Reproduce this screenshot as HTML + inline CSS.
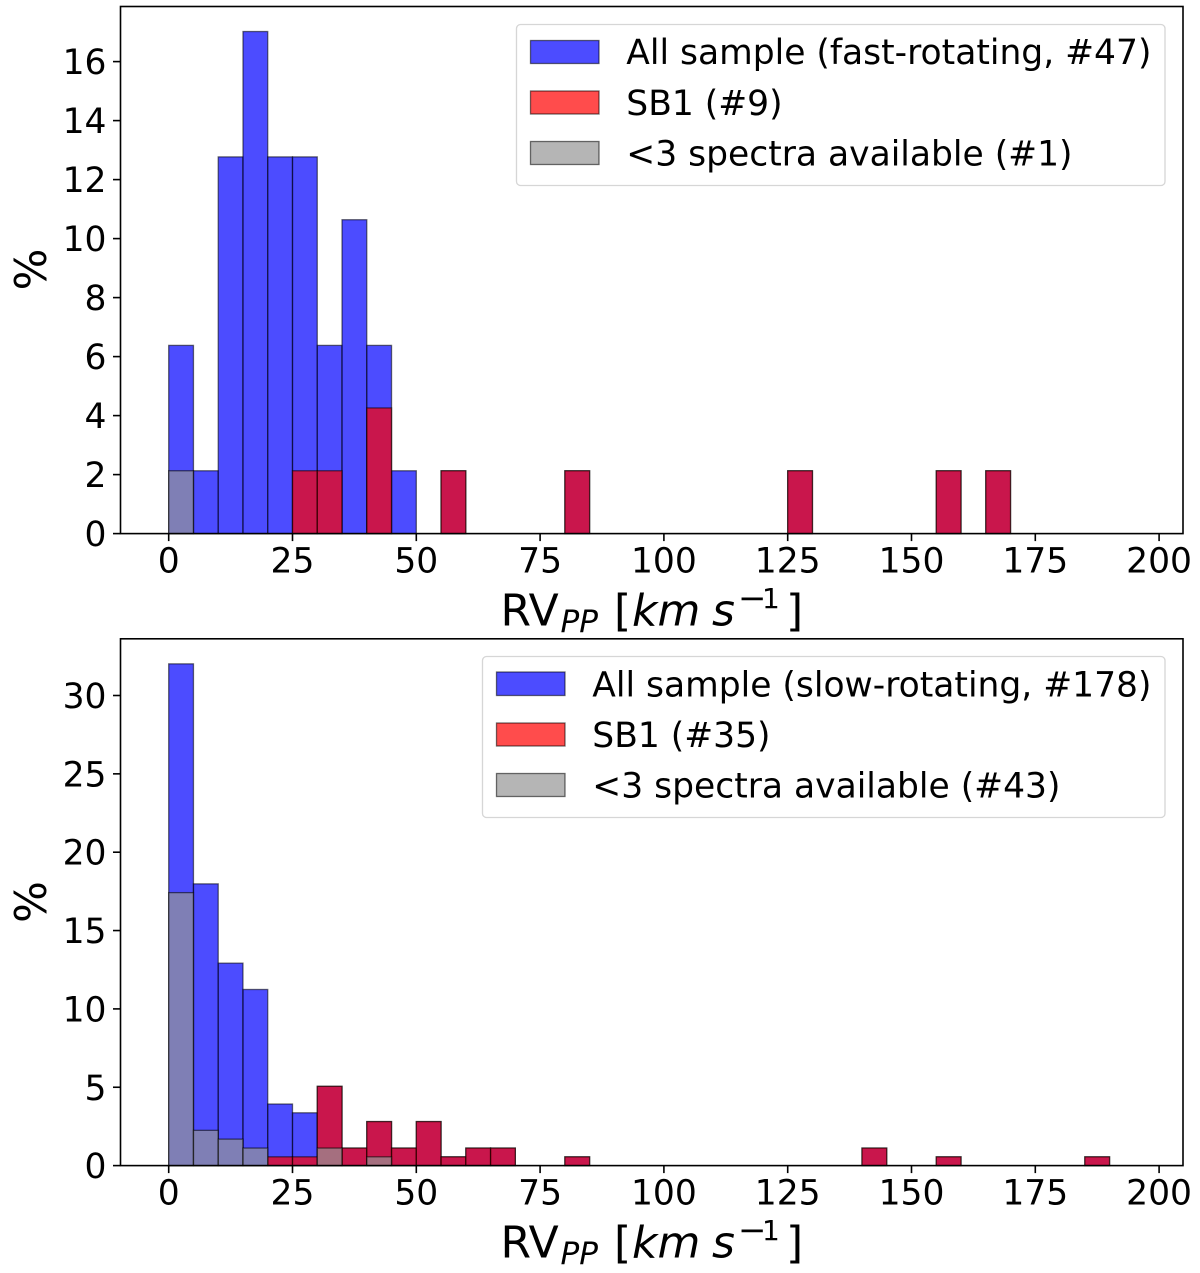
<!DOCTYPE html>
<html lang="en">
<head>
<meta charset="utf-8">
<title>RV peak-to-peak histograms</title>
<style>
html,body{margin:0;padding:0;background:#fff;}
svg{display:block;filter:blur(0.35px);}
text{font-family:"DejaVu Sans","Liberation Sans",sans-serif;fill:#000;}
.tick{font-size:34.5px;}
.leg{font-size:34.5px;}
.lab{font-size:44px;}
.sub{font-size:31px;}
.sup1{font-size:28px;}
.sup2{font-size:34px;}
</style>
</head>
<body>
<svg id="fig" xmlns="http://www.w3.org/2000/svg" width="1200" height="1273" viewBox="0 0 1200 1273">
  <rect x="0" y="0" width="1200" height="1273" fill="#fff"/>
  <g id="panel-top"></g>
  <g id="panel-bottom"></g>

  <g>
    <rect x="516.5" y="24.5" width="648.5" height="161" rx="4" fill="#fff" fill-opacity="0.8" stroke="#ccc" stroke-opacity="0.8" stroke-width="1.3"/>
    <rect x="530.5" y="40.5" width="68.5" height="23" fill="#00f" fill-opacity="0.7" stroke="#000" stroke-opacity="0.55" stroke-width="1.3"/>
    <text class="leg" x="626.3" y="64">All sample (fast-rotating, #47)</text>
    <rect x="530.5" y="91" width="68.5" height="23" fill="#f00" fill-opacity="0.7" stroke="#000" stroke-opacity="0.55" stroke-width="1.3"/>
    <text class="leg" x="626.3" y="115">SB1 (#9)</text>
    <rect x="530.5" y="141.5" width="68.5" height="23" fill="#969696" fill-opacity="0.7" stroke="#000" stroke-opacity="0.55" stroke-width="1.3"/>
    <text class="leg" x="626.3" y="165.5">&lt;3 spectra available (#1)</text>
  </g>

  <g>
    <rect x="482.5" y="656.5" width="682.5" height="161" rx="4" fill="#fff" fill-opacity="0.8" stroke="#ccc" stroke-opacity="0.8" stroke-width="1.3"/>
    <rect x="496.5" y="672" width="68.5" height="23.5" fill="#00f" fill-opacity="0.7" stroke="#000" stroke-opacity="0.55" stroke-width="1.3"/>
    <text class="leg" x="592.3" y="696.5">All sample (slow-rotating, #178)</text>
    <rect x="496.5" y="723" width="68.5" height="23" fill="#f00" fill-opacity="0.7" stroke="#000" stroke-opacity="0.55" stroke-width="1.3"/>
    <text class="leg" x="592.3" y="747">SB1 (#35)</text>
    <rect x="496.5" y="773.5" width="68.5" height="23" fill="#969696" fill-opacity="0.7" stroke="#000" stroke-opacity="0.55" stroke-width="1.3"/>
    <text class="leg" x="592.3" y="797.5">&lt;3 spectra available (#43)</text>
  </g>

  <g>
    <text class="lab" x="500.5" y="625.5">RV</text>
    <text class="sub" font-style="italic" x="560.5" y="632">PP</text>
    <text class="lab" x="614" y="625.5">[</text>
    <text class="lab" font-style="italic" x="632" y="625.5">km</text>
    <text class="lab" font-style="italic" x="712" y="625.5">s</text>
    <text class="sup2" x="738" y="609.5">−</text>
    <text class="sup1" x="762" y="608">1</text>
    <text class="lab" x="786" y="625.5">]</text>
  </g>
  <g>
    <text class="lab" x="500.5" y="1257.5">RV</text>
    <text class="sub" font-style="italic" x="560.5" y="1264">PP</text>
    <text class="lab" x="614" y="1257.5">[</text>
    <text class="lab" font-style="italic" x="632" y="1257.5">km</text>
    <text class="lab" font-style="italic" x="712" y="1257.5">s</text>
    <text class="sup2" x="738" y="1241.5">−</text>
    <text class="sup1" x="762" y="1240">1</text>
    <text class="lab" x="786" y="1257.5">]</text>
  </g>
  <text class="lab" text-anchor="middle" transform="translate(46,269.5) rotate(-90)">%</text>
  <text class="lab" text-anchor="middle" transform="translate(46,902) rotate(-90)">%</text>
</svg>

<script>
// Shared bin starts (km/s), each bin is 5 km/s wide
const binStarts = [0,5,10,15,20,25,30,35,40,45,50,55,60,65,70,75,80,85,90,95,100,105,110,115,120,125,130,135,140,145,150,155,160,165,170,175,180,185,190,195];
const binWidth = 5;
const xTickValues = [0,25,50,75,100,125,150,175,200];

// Fast-rotating panel: percent per bin
const fastAll = [6.38,2.13,12.77,17.02,12.77,12.77,6.38,10.64,6.38,2.13,0,2.13,0,0,0,0,2.13,0,0,0,0,0,0,0,0,2.13,0,0,0,0,0,2.13,0,2.13,0,0,0,0,0,0];
const fastSB1 = [0,0,0,0,0,2.13,2.13,0,4.26,0,0,2.13,0,0,0,0,2.13,0,0,0,0,0,0,0,0,2.13,0,0,0,0,0,2.13,0,2.13,0,0,0,0,0,0];
const fastFew = [2.13,0,0,0,0,0,0,0,0,0,0,0,0,0,0,0,0,0,0,0,0,0,0,0,0,0,0,0,0,0,0,0,0,0,0,0,0,0,0,0];
const fastYTicks = [0,2,4,6,8,10,12,14,16];

// Slow-rotating panel: percent per bin
const slowAll = [32.02,17.98,12.92,11.24,3.93,3.37,5.06,1.12,2.81,1.12,2.81,0.56,1.12,1.12,0,0,0.56,0,0,0,0,0,0,0,0,0,0,0,1.12,0,0,0.56,0,0,0,0,0,0.56,0,0];
const slowSB1 = [0,0,0,0,0.56,0.56,5.06,1.12,2.81,1.12,2.81,0.56,1.12,1.12,0,0,0.56,0,0,0,0,0,0,0,0,0,0,0,1.12,0,0,0.56,0,0,0,0,0,0.56,0,0];
const slowFew = [17.42,2.25,1.69,1.12,0,0,1.12,0,0.56,0,0,0,0,0,0,0,0,0,0,0,0,0,0,0,0,0,0,0,0,0,0,0,0,0,0,0,0,0,0,0];
const slowYTicks = [0,5,10,15,20,25,30];

const NS = 'http://www.w3.org/2000/svg';

function xScale(v){ return 168.7 + v * 4.952; }

function mk(tag, parent){
  const el = document.createElementNS(NS, tag);
  parent.appendChild(el);
  return el;
}

function drawBars(parent, values, yScale, fill, seriesName){
  values.forEach(function(v, i){
    if (v <= 0) return;
    const x0 = xScale(binStarts[i]);
    const x1 = xScale(binStarts[i] + binWidth);
    const y = yScale(v);
    const r = mk('rect', parent);
    
    
    r.setAttribute('x', x0);
    r.setAttribute('y', y);
    r.setAttribute('width', x1 - x0);
    r.setAttribute('height', yScale(0) - y);
    r.setAttribute('fill', fill);
    r.setAttribute('fill-opacity', '0.7');
    r.setAttribute('stroke', '#000');
    r.setAttribute('stroke-opacity', '0.55');
    r.setAttribute('stroke-width', '1.3');
  });
}

function drawPanel(parent, top, bottom, yPerUnit, all, sb1, few, yTicks){
  const left = 120.5, right = 1183;
  const yScale = function(v){ return bottom - v * yPerUnit; };

  drawBars(parent, all, yScale, '#00f', 'all-sample');
  drawBars(parent, sb1, yScale, '#f00', 'sb1');
  drawBars(parent, few, yScale, '#969696', 'few-spectra');

  xTickValues.forEach(function(t){
    const x = xScale(t);
    const l = mk('line', parent);
    
    
    l.setAttribute('x1', x);
    l.setAttribute('x2', x);
    l.setAttribute('y1', bottom);
    l.setAttribute('y2', bottom + 7.5);
    l.setAttribute('stroke', '#000');
    l.setAttribute('stroke-width', '1.6');
    const s = mk('text', parent);
    
    
    s.setAttribute('class', 'tick');
    s.setAttribute('x', x);
    s.setAttribute('y', bottom + 39);
    s.setAttribute('text-anchor', 'middle');
    s.textContent = String(t);
  });

  yTicks.forEach(function(t){
    const y = yScale(t);
    const l = mk('line', parent);
    
    
    l.setAttribute('x1', left - 7.5);
    l.setAttribute('x2', left);
    l.setAttribute('y1', y);
    l.setAttribute('y2', y);
    l.setAttribute('stroke', '#000');
    l.setAttribute('stroke-width', '1.6');
    const s = mk('text', parent);
    
    
    s.setAttribute('class', 'tick');
    s.setAttribute('x', left - 14);
    s.setAttribute('y', y + 12.5);
    s.setAttribute('text-anchor', 'end');
    s.textContent = String(t);
  });

  const frame = mk('rect', parent);
  
  
  frame.setAttribute('x', left);
  frame.setAttribute('y', top);
  frame.setAttribute('width', right - left);
  frame.setAttribute('height', bottom - top);
  frame.setAttribute('fill', 'none');
  frame.setAttribute('stroke', '#000');
  frame.setAttribute('stroke-width', '1.6');
}

drawPanel(document.getElementById('panel-top'), 6.5, 533.6, 29.5, fastAll, fastSB1, fastFew, fastYTicks);
drawPanel(document.getElementById('panel-bottom'), 638.8, 1165.6, 15.67, slowAll, slowSB1, slowFew, slowYTicks);
</script>
</body>
</html>
